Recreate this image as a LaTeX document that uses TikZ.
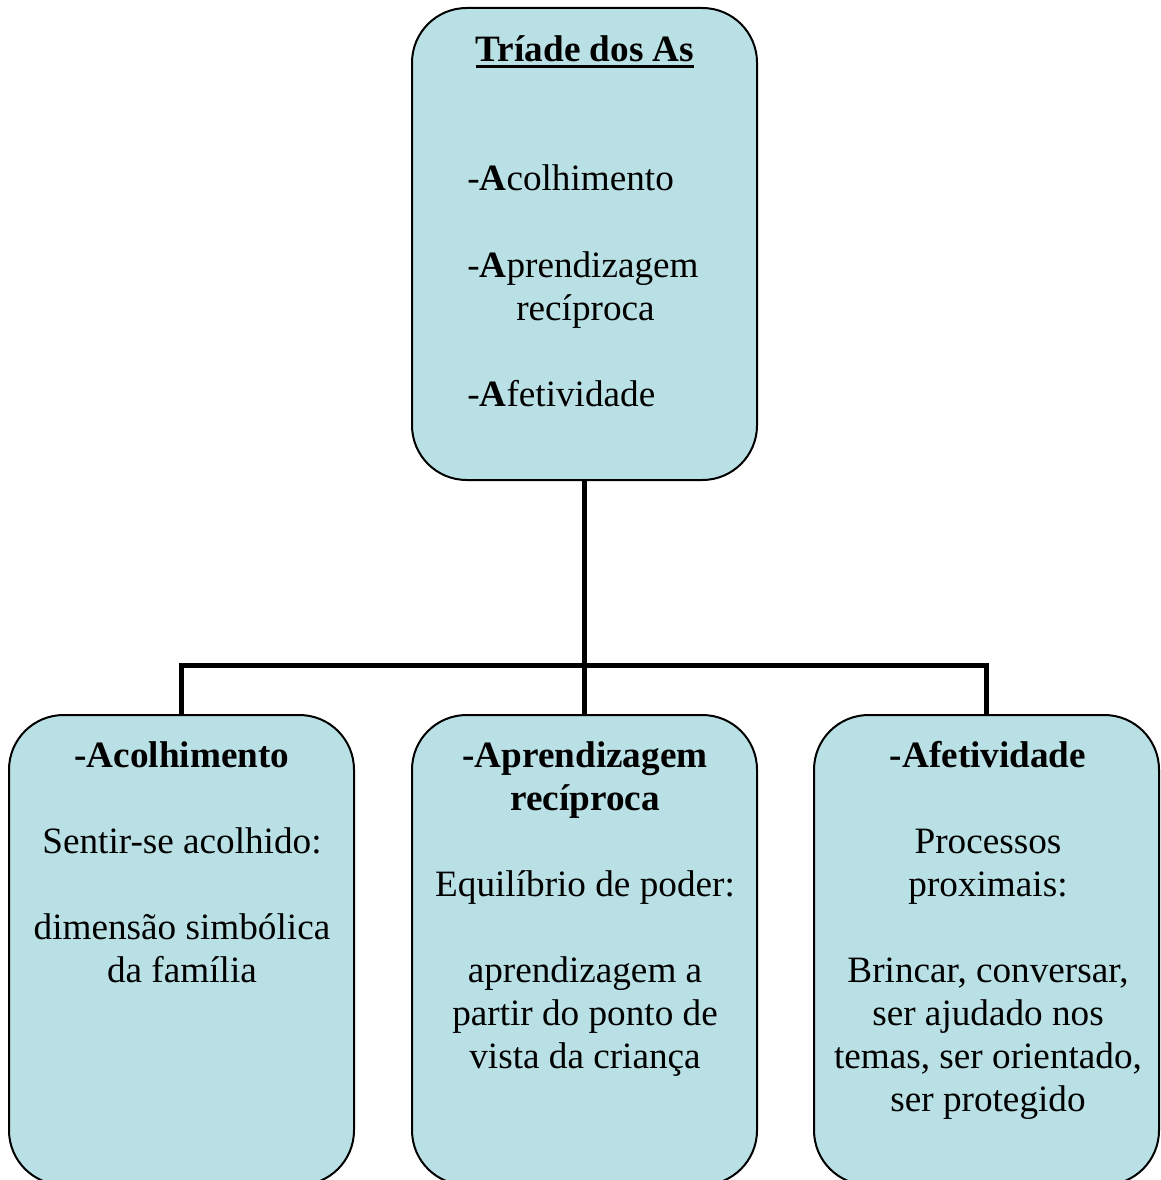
\documentclass[tikz,border=0pt]{standalone}
\usepackage{fontspec}
\setmainfont{Liberation Serif}
\definecolor{boxfill}{HTML}{B9E0E4}
\newcommand{\sublinha}[1]{\setbox0=\hbox{#1}\rlap{\rule[-4.8pt]{\wd0}{2.4pt}}\box0}

\begin{document}
\begin{tikzpicture}[x=0.75pt,y=0.75pt,yscale=-1,xscale=1,
  abox/.style={draw=black, line width=1.5pt, fill=boxfill, rounded corners=41pt,
    minimum width=258.75pt, inner sep=0pt},
  txt/.style={font=\fontsize{27.9pt}{32.25pt}\selectfont, inner sep=0pt, anchor=base},
  conn/.style={line width=3.75pt, black}]

\clip (0, 0) rectangle (1160, 1180);

% top box (text nodes sit on the baseline of their last line)
\node (triade) [abox, minimum height=354pt] at (584.5, 244) {};
\node (titulo) [txt] at (585, 62) {\sublinha{\textbf{Tríade dos As}}};
\node (lista) [txt, anchor=base west, align=left] at (467, 406)
  {-\textbf{A}colhimento\\ ~\\ -\textbf{A}prendizagem\\ \hspace*{36.75pt}recíproca\\ ~\\ -\textbf{A}fetividade};

% bottom boxes
\node (acolh) [abox, minimum height=352.5pt] at (181.5, 950) {};
\node (aprend) [abox, minimum height=352.5pt] at (584.5, 950) {};
\node (afet) [abox, minimum height=352.5pt] at (986.5, 950) {};

\node (acolhtxt) [txt, align=center] at (182, 982)
  {\textbf{-Acolhimento}\\ ~\\ Sentir-se acolhido:\\ ~\\ dimensão simbólica\\ da família};
\node (aprendtxt) [txt, align=center] at (585, 1068)
  {\textbf{-Aprendizagem}\\ \textbf{recíproca}\\ ~\\ Equilíbrio de poder:\\ ~\\ aprendizagem a\\ partir do ponto de\\ vista da criança};
\node (afettxt) [txt, align=center] at (988, 1111)
  {\textbf{-Afetividade}\\ ~\\ Processos\\ proximais:\\ ~\\ Brincar, conversar,\\ ser ajudado nos\\ temas, ser orientado,\\ ser protegido};

% connectors
\coordinate (juncao) at (584.5, 665);
\draw [conn] (triade.south) -- (juncao);
\draw [conn] (acolh.north) |- (juncao) -| (afet.north);
\draw [conn] (juncao) -- (aprend.north);

\end{tikzpicture}
\end{document}
